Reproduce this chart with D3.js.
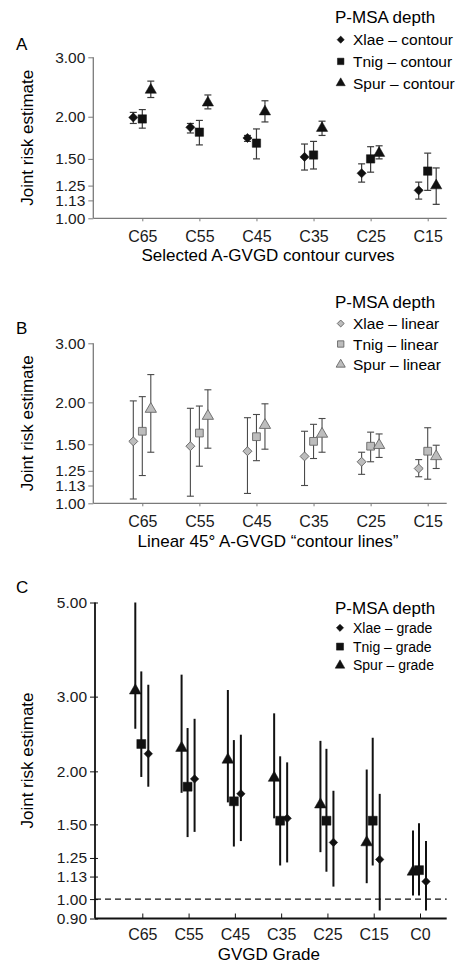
<!DOCTYPE html>
<html>
<head>
<meta charset="utf-8">
<script src="https://cdn.jsdelivr.net/npm/d3@7"></script>
<style>
  body { margin: 0; background: #fff; }
  svg { font-family: "Liberation Sans", Arial, sans-serif; }
</style>
</head>
<body>
<div id="wrapper"></div>
<script>
// categories and ticks
const catsAB = ["C65", "C55", "C45", "C35", "C25", "C15"]
const catsC = ["C65", "C55", "C45", "C35", "C25", "C15", "C0"]
const ticksAB = [1.00, 1.13, 1.25, 1.50, 2.00, 3.00]
const ticksC = [0.90, 1.00, 1.13, 1.25, 1.50, 2.00, 3.00, 5.00]

// panel A - contour curves
const aXlae = [1.99, 1.86, 1.73, 1.52, 1.36, 1.21]
const aXlaeLo = [1.91, 1.79, 1.69, 1.39, 1.28, 1.14]
const aXlaeHi = [2.06, 1.91, 1.76, 1.66, 1.45, 1.28]
const aTnig = [1.97, 1.80, 1.67, 1.54, 1.50, 1.38]
const aTnigLo = [1.85, 1.65, 1.50, 1.40, 1.37, 1.21]
const aTnigHi = [2.10, 1.95, 1.84, 1.69, 1.63, 1.56]
const aSpur = [2.40, 2.20, 2.07, 1.85, 1.56, 1.25]
const aSpurLo = [2.28, 2.11, 1.93, 1.76, 1.50, 1.10]
const aSpurHi = [2.55, 2.32, 2.23, 1.94, 1.64, 1.41]

// panel B - linear contour lines
const bXlae = [1.53, 1.48, 1.43, 1.38, 1.33, 1.27]
const bXlaeLo = [1.03, 1.05, 1.07, 1.13, 1.22, 1.20]
const bXlaeHi = [2.02, 1.92, 1.80, 1.64, 1.42, 1.35]
const bTnig = [1.64, 1.62, 1.58, 1.53, 1.48, 1.43]
const bTnigLo = [1.21, 1.29, 1.34, 1.36, 1.33, 1.18]
const bTnigHi = [2.08, 1.95, 1.84, 1.72, 1.63, 1.68]
const bSpur = [1.91, 1.82, 1.71, 1.61, 1.49, 1.38]
const bSpurLo = [1.42, 1.46, 1.45, 1.42, 1.37, 1.27]
const bSpurHi = [2.42, 2.18, 1.98, 1.79, 1.61, 1.49]

// panel C - grades
const cXlae = [2.20, 1.92, 1.77, 1.55, 1.36, 1.24, 1.10]
const cXlaeLo = [1.84, 1.44, 1.37, 1.22, 1.07, 0.94, 0.94]
const cXlaeHi = [3.20, 2.66, 2.44, 2.10, 1.80, 1.77, 1.37]
const cTnig = [2.32, 1.84, 1.70, 1.53, 1.53, 1.53, 1.17]
const cTnigLo = [1.94, 1.40, 1.33, 1.20, 1.16, 1.20, 1.02]
const cTnigHi = [3.44, 2.53, 2.37, 2.17, 2.26, 2.40, 1.51]
const cSpur = [3.10, 2.27, 2.13, 1.93, 1.67, 1.36, 1.16]
const cSpurLo = [2.52, 1.78, 1.69, 1.55, 1.29, 1.09, 1.02]
const cSpurHi = [5.00, 3.38, 3.11, 2.74, 2.36, 2.02, 1.45]

const width = 460
const height = 964
const svg = d3.select("#wrapper").append("svg")
    .attr("width", width)
    .attr("height", height)

function shape(name) {
    if (name == "Spur") return d3.symbolTriangle
    return d3.symbolSquare
}
// diamonds are squares turned by 45 degrees
function turn(name) {
    return name == "Xlae" ? " rotate(45)" : ""
}

function pack(names, est, lo, hi) {
    return names.map(function(n, i) {
        return {name: n, est: est[i], lo: lo[i], hi: hi[i]}
    })
}

function drawPanel(p) {
    const g = svg.append("g")
    const x = d3.scalePoint().domain(p.cats).range([p.x0, p.x1])
    const y = d3.scaleLog().domain(p.ydom).range(p.yrange)

    // y axis
    const yAxis = d3.axisLeft(y).tickValues(p.yticks).tickFormat(d3.format(".2f"))
        .tickSizeOuter(0).tickSizeInner(5).tickPadding(3)
    const ya = g.append("g").attr("transform", "translate(" + p.left + ",0)").call(yAxis)
    ya.select(".domain").remove()
    ya.selectAll(".tick line").attr("stroke", p.axisColor)
    if (p.cross) ya.selectAll(".tick line").attr("x1", 3)
    ya.selectAll("text").style("font-size", "15.5px").attr("fill", "#1a1a1a")
    g.append("line")
        .attr("x1", p.left).attr("x2", p.left)
        .attr("y1", y(p.ydom[1])).attr("y2", y(p.ydom[0]))
        .attr("stroke", p.axisColor).attr("stroke-width", p.axisWidth)

    // x axis
    const xAxis = d3.axisBottom(x).tickSizeOuter(0).tickSizeInner(p.xtick).tickPadding(p.xpad)
    const xa = g.append("g").attr("transform", "translate(0," + y(p.ydom[0]) + ")").call(xAxis)
    xa.select(".domain").remove()
    xa.selectAll(".tick line").attr("stroke", p.axisColor)
    xa.selectAll("text").style("font-size", "16px").attr("fill", "#1a1a1a")
    g.append("line")
        .attr("x1", p.left).attr("x2", p.right)
        .attr("y1", y(p.ydom[0])).attr("y2", y(p.ydom[0]))
        .attr("stroke", p.axisColor).attr("stroke-width", p.axisWidth)

    if (p.refLine) {
        g.append("line")
            .attr("x1", p.left).attr("x2", p.right)
            .attr("y1", y(1)).attr("y2", y(1))
            .attr("stroke", "#111").attr("stroke-width", 1.3)
            .attr("stroke-dasharray", "6,4")
    }

    // error bars and markers
    p.series.forEach(function(s) {
        const data = pack(p.cats, s.est, s.lo, s.hi)
        const sg = g.append("g")
        sg.selectAll(".bar").data(data).enter().append("line")
            .attr("x1", function(d) { return x(d.name) + s.dx })
            .attr("x2", function(d) { return x(d.name) + s.dx })
            .attr("y1", function(d) { return y(d.lo) })
            .attr("y2", function(d) { return y(d.hi) })
            .attr("stroke", p.barColor).attr("stroke-width", p.barWidth)
        if (p.cap > 0) {
            ;["lo", "hi"].forEach(function(k) {
                sg.selectAll(".cap" + k).data(data).enter().append("line")
                    .attr("x1", function(d) { return x(d.name) + s.dx - p.cap })
                    .attr("x2", function(d) { return x(d.name) + s.dx + p.cap })
                    .attr("y1", function(d) { return y(d[k]) })
                    .attr("y2", function(d) { return y(d[k]) })
                    .attr("stroke", p.barColor).attr("stroke-width", p.barWidth)
            })
        }
        sg.selectAll(".mark").data(data).enter().append("path")
            .attr("d", d3.symbol().type(shape(s.name)).size(p.sizes[s.name]))
            .attr("transform", function(d) { return "translate(" + (x(d.name) + s.dx) + "," + y(d.est) + ")" + turn(s.name) })
            .attr("fill", p.fill).attr("stroke", p.stroke).attr("stroke-width", p.strokeWidth)
    })

    // axis titles
    const midY = (y(p.ydom[0]) + y(p.ydom[1])) / 2
    g.append("text")
        .attr("transform", "translate(33," + midY + ") rotate(-90)")
        .attr("text-anchor", "middle")
        .style("font-size", "17px")
        .text("Joint risk estimate")
    g.append("text")
        .attr("x", (p.left + p.right) / 2 - 2)
        .attr("y", p.titleY)
        .attr("text-anchor", "middle")
        .style("font-size", "17px")
        .text(p.xtitle)
    g.append("text")
        .attr("x", 16).attr("y", p.letterY)
        .style("font-size", "17px")
        .text(p.letter)

    // legend
    g.append("text")
        .attr("x", 335).attr("y", p.legY)
        .style("font-size", "17px")
        .text("P-MSA depth")
    p.series.slice().sort(function(a, b) { return a.order - b.order }).forEach(function(s, i) {
        const ly = p.legY + p.legGap * (i + 1) - 5
        g.append("path")
            .attr("d", d3.symbol().type(shape(s.name)).size(p.legSizes[s.name]))
            .attr("transform", "translate(" + p.legMark + "," + ly + ")" + turn(s.name))
            .attr("fill", p.fill).attr("stroke", p.stroke).attr("stroke-width", p.strokeWidth)
        g.append("text")
            .attr("x", 353).attr("y", ly + p.legFont * 0.36)
            .style("font-size", p.legFont + "px")
            .text(s.name + " \u2013 " + p.suffix)
    })
}

drawPanel({
    letter: "A", letterY: 50,
    cats: catsAB, x0: 142.3, x1: 427.7, left: 93.3, right: 446.7,
    ydom: [1, 3], yrange: [218.3, 57.3], yticks: ticksAB,
    axisColor: "#7a7a7a", axisWidth: 1.3, xtick: 3, xpad: 9, cross: false,
    barColor: "#3a3a3a", barWidth: 1.2, cap: 3.5,
    fill: "#111", stroke: "#111", strokeWidth: 0.5,
    sizes: {Xlae: 42, Tnig: 70, Spur: 55},
    legSizes: {Xlae: 26, Tnig: 42, Spur: 36},
    series: [
        {name: "Xlae", order: 0, dx: -9, est: aXlae, lo: aXlaeLo, hi: aXlaeHi},
        {name: "Tnig", order: 1, dx: 0, est: aTnig, lo: aTnigLo, hi: aTnigHi},
        {name: "Spur", order: 2, dx: 8.5, est: aSpur, lo: aSpurLo, hi: aSpurHi}
    ],
    xtitle: "Selected A-GVGD contour curves", titleY: 261,
    legY: 23, legGap: 21.7, legMark: 340.7, legFont: 15.5, suffix: "contour"
})

drawPanel({
    letter: "B", letterY: 334,
    cats: catsAB, x0: 142.3, x1: 427.7, left: 93.3, right: 446.7,
    ydom: [1, 3], yrange: [503.3, 343.3], yticks: ticksAB,
    axisColor: "#7a7a7a", axisWidth: 1.3, xtick: 3, xpad: 9, cross: false,
    barColor: "#4a4a4a", barWidth: 1.1, cap: 3.5,
    fill: "#bdbdbd", stroke: "#666", strokeWidth: 0.9,
    sizes: {Xlae: 40, Tnig: 60, Spur: 55},
    legSizes: {Xlae: 24, Tnig: 40, Spur: 36},
    series: [
        {name: "Xlae", order: 0, dx: -9, est: bXlae, lo: bXlaeLo, hi: bXlaeHi},
        {name: "Tnig", order: 1, dx: 0, est: bTnig, lo: bTnigLo, hi: bTnigHi},
        {name: "Spur", order: 2, dx: 8.5, est: bSpur, lo: bSpurLo, hi: bSpurHi}
    ],
    xtitle: "Linear 45\u00b0 A-GVGD \u201ccontour lines\u201d", titleY: 546.5,
    legY: 308, legGap: 20.5, legMark: 340.7, legFont: 15.5, suffix: "linear"
})

drawPanel({
    letter: "C", letterY: 592.7,
    cats: catsC, x0: 142.3, x1: 420, left: 95, right: 446.7,
    ydom: [0.9, 5], yrange: [918.5, 602.5], yticks: ticksC,
    axisColor: "#111", axisWidth: 1.8, xtick: -5, xpad: 10, cross: true,
    barColor: "#111", barWidth: 2, cap: 0, refLine: true,
    fill: "#111", stroke: "#111", strokeWidth: 0.5,
    sizes: {Xlae: 36, Tnig: 80, Spur: 60},
    legSizes: {Xlae: 26, Tnig: 50, Spur: 40},
    series: [
        {name: "Spur", order: 2, dx: -7, est: cSpur, lo: cSpurLo, hi: cSpurHi},
        {name: "Tnig", order: 1, dx: -1, est: cTnig, lo: cTnigLo, hi: cTnigHi},
        {name: "Xlae", order: 0, dx: 6, est: cXlae, lo: cXlaeLo, hi: cXlaeHi}
    ],
    xtitle: "GVGD Grade", titleY: 960,
    legY: 614, legGap: 18.8, legMark: 340, legFont: 14, suffix: "grade"
})
</script>
</body>
</html>
